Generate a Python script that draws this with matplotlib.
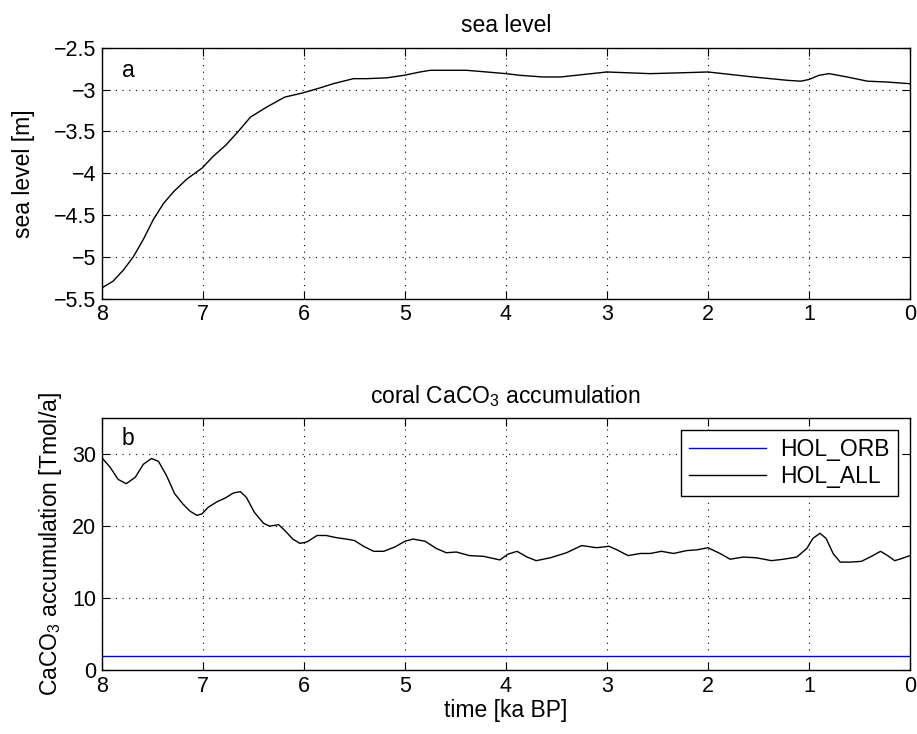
import matplotlib
matplotlib.use("Agg")
import matplotlib.pyplot as plt

plt.rcParams['font.family'] = ['Liberation Sans', 'DejaVu Sans']
plt.rcParams['mathtext.default'] = 'regular'
plt.rcParams['axes.unicode_minus'] = True

# sea level (panel a)
sl_time = [8.0, 7.89, 7.79, 7.69, 7.59, 7.49, 7.39, 7.29, 7.16, 7.01, 6.90, 6.77, 6.65,
           6.53, 6.37, 6.19, 6.01, 5.84, 5.71, 5.51, 5.38, 5.18, 5.01, 4.85, 4.75, 4.39,
           4.19, 4.0, 3.86, 3.63, 3.46, 3.23, 3.0, 2.57, 2.27, 2.0, 1.55, 1.21, 1.08,
           1.0, 0.90, 0.80, 0.62, 0.42, 0.23, 0.0]
sl_value = [-5.37, -5.29, -5.16, -5.0, -4.79, -4.55, -4.36, -4.22, -4.07, -3.94, -3.80,
            -3.66, -3.50, -3.33, -3.21, -3.09, -3.04, -2.98, -2.93, -2.87, -2.87, -2.86,
            -2.83, -2.79, -2.77, -2.77, -2.79, -2.81, -2.83, -2.85, -2.85, -2.82, -2.79,
            -2.81, -2.80, -2.79, -2.85, -2.89, -2.90, -2.88, -2.83, -2.81, -2.85, -2.90,
            -2.91, -2.93]

# coral CaCO3 accumulation (panel b)
acc_time = [8.0, 7.92, 7.84, 7.76, 7.67, 7.59, 7.51, 7.44, 7.36, 7.28, 7.20, 7.13, 7.06,
            7.01, 6.95, 6.86, 6.78, 6.70, 6.63, 6.57, 6.49, 6.40, 6.34, 6.25, 6.19, 6.11,
            6.04, 5.97, 5.87, 5.78, 5.68, 5.58, 5.50, 5.41, 5.31, 5.21, 5.10, 5.0, 4.92,
            4.80, 4.69, 4.59, 4.49, 4.36, 4.22, 4.06, 3.98, 3.89, 3.79, 3.70, 3.56, 3.40,
            3.25, 3.10, 2.98, 2.90, 2.79, 2.67, 2.57, 2.46, 2.34, 2.21, 2.11, 2.0, 1.88,
            1.78, 1.65, 1.52, 1.37, 1.25, 1.12, 1.02, 0.96, 0.89, 0.83, 0.76, 0.69, 0.59,
            0.48, 0.38, 0.29, 0.22, 0.15, 0.08, 0.0]
acc_all = [29.5, 28.2, 26.5, 25.9, 26.8, 28.6, 29.4, 29.0, 27.0, 24.5, 23.1, 22.1, 21.5,
           21.7, 22.6, 23.4, 23.9, 24.6, 24.8, 24.0, 21.9, 20.4, 20.0, 20.2, 19.4, 18.2,
           17.6, 17.8, 18.7, 18.7, 18.4, 18.2, 18.0, 17.2, 16.5, 16.5, 17.1, 17.9, 18.2,
           17.9, 16.9, 16.3, 16.4, 15.9, 15.8, 15.3, 16.1, 16.5, 15.7, 15.2, 15.6, 16.3,
           17.3, 17.0, 17.2, 16.7, 15.9, 16.2, 16.2, 16.5, 16.2, 16.6, 16.7, 17.0, 16.2,
           15.4, 15.7, 15.6, 15.2, 15.4, 15.7, 16.9, 18.3, 19.0, 18.3, 16.2, 15.0, 15.0,
           15.1, 15.8, 16.5, 15.9, 15.2, 15.5, 15.9]
orb_time = [8.0, 0.0]
acc_orb = [2.0, 2.0]

x_ticks = [8, 7, 6, 5, 4, 3, 2, 1, 0]
sl_ticks = [-2.5, -3, -3.5, -4, -4.5, -5, -5.5]
sl_ticklabels = ['\u22122.5', '\u22123', '\u22123.5', '\u22124', '\u22124.5', '\u22125', '\u22125.5']
acc_ticks = [0, 10, 20, 30]

fig = plt.figure(figsize=(9.17, 7.34), dpi=100)
ax1 = fig.add_axes([0.1112, 0.593, 0.881, 0.342])
ax2 = fig.add_axes([0.1112, 0.0872, 0.881, 0.343])

fs = 15.5
fl = 16.5

def style(ax):
    ax.set_xlim(8, 0)
    ax.set_xticks(x_ticks)
    ax.grid(True, linestyle=(0, (1, 5)), color='black', linewidth=0.8)
    ax.tick_params(direction='in', top=True, right=True, length=6, width=0.8,
                   labelsize=fs, pad=4)
    for s in ax.spines.values():
        s.set_linewidth(1.0)

ax1.plot(sl_time, sl_value, color='black', linewidth=1.0)
style(ax1)
ax1.set_ylim(-5.5, -2.5)
ax1.set_yticks(sl_ticks)
ax1.set_yticklabels(sl_ticklabels)
ax1.set_ylabel('sea level [m]', fontsize=fl, labelpad=14)
ax1.set_title('sea level', fontsize=fl, pad=11)
ax1.text(7.74, -2.77, 'a', fontsize=fl, ha='center', va='center')

ax2.plot(orb_time, acc_orb, color='#0000ff', linewidth=1.0, label='HOL_ORB')
ax2.plot(acc_time, acc_all, color='black', linewidth=1.0, label='HOL_ALL')
style(ax2)
ax2.set_ylim(0, 35)
ax2.set_yticks(acc_ticks)
ax2.set_ylabel('CaCO$_3$ accumulation [Tmol/a]', fontsize=fl, labelpad=6)
ax2.set_title('coral CaCO$_3$ accumulation', fontsize=fl, pad=11)
ax2.set_xlabel('time [ka BP]', fontsize=fl, labelpad=2)
ax2.text(7.74, 32.2, 'b', fontsize=fl, ha='center', va='center')
leg = ax2.legend(loc='upper right', fontsize=fl, fancybox=False, framealpha=1,
                 edgecolor='black', handlelength=3.4, borderpad=0.35,
                 labelspacing=0.2, handletextpad=0.6, borderaxespad=0,
                 bbox_to_anchor=(0.985, 0.954))
leg.get_frame().set_linewidth(1.0)

fig.savefig('out.png', dpi=100)
